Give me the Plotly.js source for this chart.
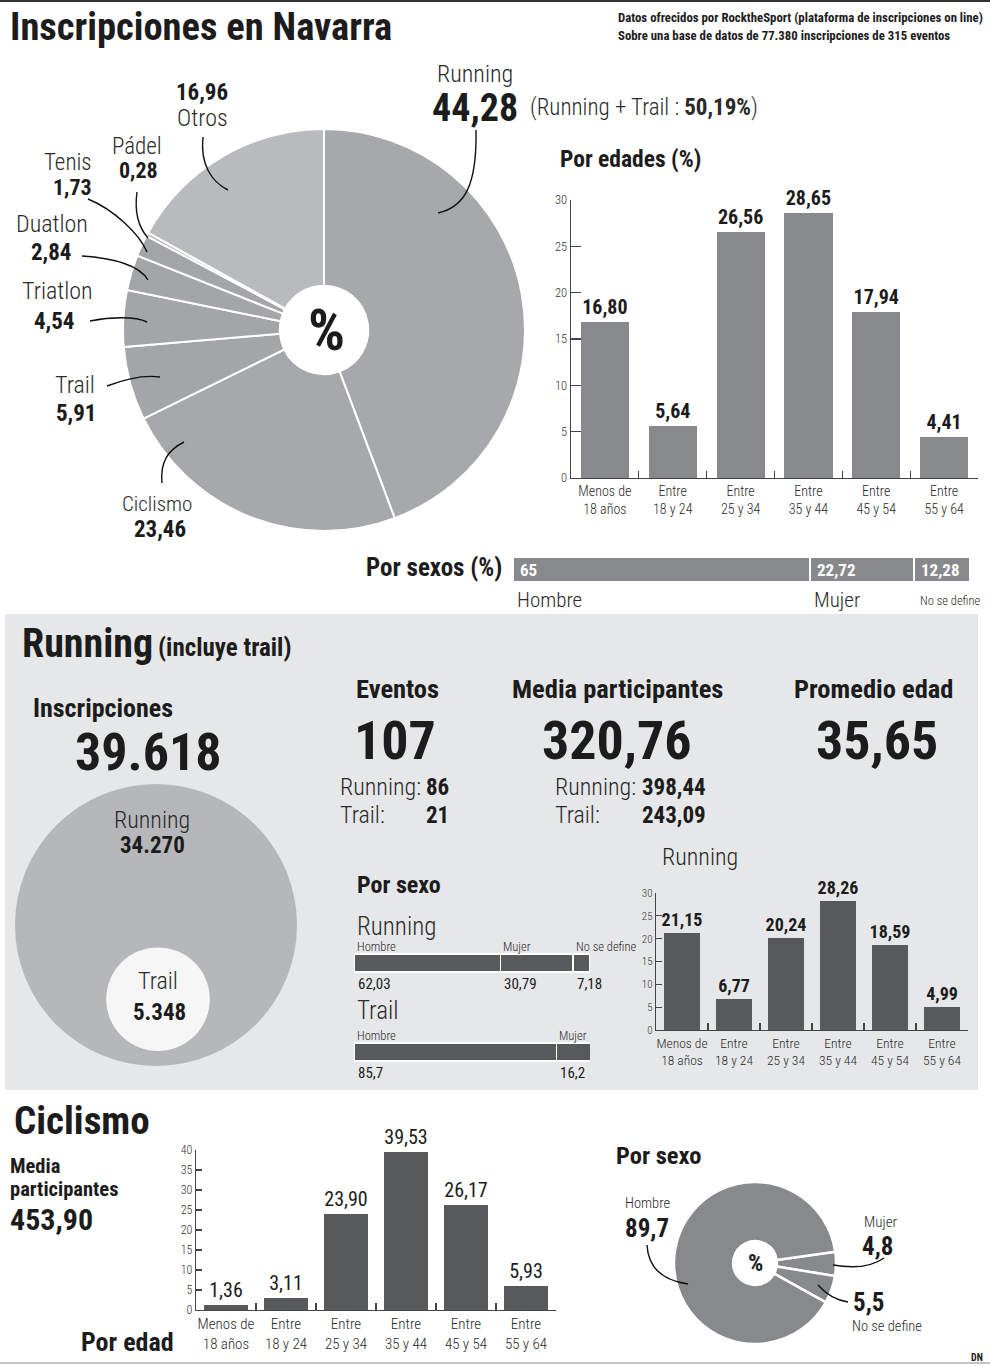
<!DOCTYPE html>
<html><head><meta charset="utf-8">
<script src="https://cdn.plot.ly/plotly-3.0.1.min.js"></script>
<style>html,body{margin:0;padding:0;background:#fff}#chart{width:990px;height:1366px}</style>
</head><body><div id="chart"></div>
<script>
// ---------- DATA ----------
const sportLabels = ['Running','Ciclismo','Trail','Triatlon','Duatlon','Tenis','Pádel','Otros'];
const sportValues = [44.28, 23.46, 5.91, 4.54, 2.84, 1.73, 0.28, 16.96];
const ageLabels = ['Menos de<br>18 años','Entre<br>18 y 24','Entre<br>25 y 34','Entre<br>35 y 44','Entre<br>45 y 54','Entre<br>55 y 64'];
const ageAll = [16.80, 5.64, 26.56, 28.65, 17.94, 4.41];
const sexLabels = ['Hombre','Mujer','No se define'];
const sexAll = [65, 22.72, 12.28];
const inscLabels = ['Running','Trail'];
const inscValues = [34270, 5348];
const runEventos = [86, 21];
const runMedia = [398.44, 243.09];
const runTotals = {eventos:107, media:320.76, edad:35.65};
const sexRunning = [62.03, 30.79, 7.18];
const sexTrail = [85.7, 16.2];
const ageRunning = [21.15, 6.77, 20.24, 28.26, 18.59, 4.99];
const ageCiclismo = [1.36, 3.11, 23.90, 39.53, 26.17, 5.93];
const cicMedia = 453.90;
const cicSexLabels = ['Mujer','No se define','Hombre'];
const cicSexValues = [4.8, 5.5, 89.7];
const totalInscripciones = 77380, totalEventos = 315;

// ---------- HELPERS ----------
const W = 990, H = 1366;
const F = "'Roboto Condensed','Noto Sans Condensed','Liberation Sans Narrow','DejaVu Sans Condensed',sans-serif";
const fmt = (v,d) => v.toFixed(d).replace('.', ',');
const fmtS = v => String(v).replace('.', ',');
const fmtN = v => String(v).replace(/\B(?=(\d{3})+(?!\d))/g, '.');
const sv = l => sportValues[sportLabels.indexOf(l)];
const anns = [];
function T(x, y, text, size, o = {}) {
  anns.push({xref:o.xref||'x', yref:o.yref||'y', x, y,
    text: o.b ? '<b>'+text+'</b>' : text, showarrow:false,
    xanchor:o.a||'left', yanchor:'middle', yshift:o.ys||0, xshift:o.xs||0,
    font:{family:F, size, color:o.c||'#1c1c1c', weight: o.b ? 700 : (o.w || 400)}});
}
const LT = {c:'#2a2a2a', w:300};
const lt = (extra) => Object.assign({}, LT, extra || {});
const shapes = [];
function L(d, w) { shapes.push({type:'path', xref:'x', yref:'y', path:d, line:{color:'#111', width:w||1.4}, layer:'above'}); }

const traces = [];
const layout = {
  width:W, height:H, margin:{l:0,r:0,t:0,b:0,pad:0},
  paper_bgcolor:'#ffffff', plot_bgcolor:'rgba(0,0,0,0)',
  showlegend:false, barmode:'stack', bargap:0.29, separators:',.',
  font:{family:F, color:'#1c1c1c'},
  xaxis:{domain:[0,1], range:[0,W], visible:false, fixedrange:true},
  yaxis:{domain:[0,1], range:[H,0], visible:false, fixedrange:true},
  hovermode:false
};

function ageAxes(n, xL, xR, yZero, yTop, ymax, dtick, tsz, xsz, tl) {
  const tv = []; for (let v = 0; v <= ymax; v += dtick) tv.push(v);
  layout['xaxis'+n] = {domain:[xL/W, xR/W], anchor:'y'+n, type:'category',
    showline:true, linecolor:'#444', linewidth:1.3, ticks:'inside', tickson:'boundaries',
    ticklen:7, tickcolor:'#444', tickwidth:1.2, tickangle:0, tickfont:{family:F, size:xsz, color:'#2a2a2a', weight:300},
    showgrid:false, zeroline:false, fixedrange:true};
  layout['yaxis'+n] = {domain:[1-yZero/H, 1-yTop/H], anchor:'x'+n, range:[0,ymax],
    tickvals:tv, ticks:'inside', ticklen:tl, tickcolor:'#444', tickwidth:1.2,
    showline:true, linecolor:'#444', linewidth:1.3, showgrid:false, zeroline:false,
    tickfont:{family:F, size:tsz, color:'#333', weight:300}, fixedrange:true};
}

// ---------- BACKGROUND SHAPES ----------
shapes.push({type:'line', xref:'x', yref:'y', x0:0, x1:W, y0:1, y1:1, line:{color:'#333', width:2}});
shapes.push({type:'rect', xref:'x', yref:'y', x0:5, x1:978, y0:614, y1:1090, fillcolor:'#e6e7e8', line:{width:0}, layer:'below'});
shapes.push({type:'line', xref:'x', yref:'y', x0:0, x1:W, y0:1363, y1:1363, line:{color:'#c4c4c4', width:2}});

// ---------- HEADER ----------
T(8, 26, 'Inscripciones en Navarra', 38.5, {b:true});
T(616, 17, 'Datos ofrecidos por RocktheSport (plataforma de inscripciones on line)', 12.8, {b:true});
T(616, 35, 'Sobre una base de datos de ' + fmtN(totalInscripciones) + ' inscripciones de ' + totalEventos + ' eventos', 12.8, {b:true});

// ---------- MAIN PIE ----------
traces.push({type:'pie', labels:sportLabels, values:sportValues, sort:false, direction:'clockwise', rotation:0,
  hole:0.22, textinfo:'none', hoverinfo:'skip',
  marker:{colors:['#a7a8ab','#a7a8ab','#a4a5a9','#a4a5a9','#a4a5a9','#a4a5a9','#b3b4b7','#b9babd'], line:{color:'#ffffff', width:2}},
  domain:{x:[123/W, 525/W], y:[1-531/H, 1-129/H]}});
T(326, 330, '%', 58, {b:true, a:'center'});
T(475, 74, 'Running', 24, lt({a:'center'}));
T(475, 108, fmt(sv('Running'),2), 38, {b:true, a:'center'});
T(528, 107, '(Running + Trail : <b>' + fmt(sv('Running')+sv('Trail'),2) + '%</b>)', 23, lt());
T(202, 92, fmt(sv('Otros'),2), 23, {b:true, a:'center'});
T(202, 118, 'Otros', 24, lt({a:'center'}));
T(137, 146, 'Pádel', 23, lt({a:'center'}));
T(138, 170, fmt(sv('Pádel'),2), 22, {b:true, a:'center'});
T(68, 162, 'Tenis', 23, lt({a:'center'}));
T(72, 187, fmt(sv('Tenis'),2), 22, {b:true, a:'center'});
T(14, 224, 'Duatlon', 24, lt());
T(29, 252, fmt(sv('Duatlon'),2), 23, {b:true});
T(20, 291, 'Triatlon', 24, lt());
T(32, 321, fmt(sv('Triatlon'),2), 23, {b:true});
T(75, 385, 'Trail', 24, lt({a:'center'}));
T(76, 413, fmt(sv('Trail'),2), 23, {b:true, a:'center'});
T(157, 504, 'Ciclismo', 21, lt({a:'center'}));
T(160, 529, fmt(sv('Ciclismo'),2), 23, {b:true, a:'center'});
L('M476,130 C477,185 465,207 438,213');
L('M203,137 C200,165 212,182 228,190');
L('M137,192 C134,214 140,229 148,238');
L('M88,199 C115,210 140,235 147,252');
L('M82,256 C115,258 140,266 148,280');
L('M90,321 C110,317 135,316 147,322');
L('M107,386 C120,381 140,374 160,377');
L('M162,483 C160,462 168,450 184,442');

// ---------- POR EDADES ----------
T(558, 159, 'Por edades (%)', 23.5, {b:true});
ageAxes(2, 571, 978, 478, 200, 30, 5, 12.5, 14, 10);
traces.push({type:'bar', x:ageLabels, y:ageAll, xaxis:'x2', yaxis:'y2', width:0.71,
  marker:{color:'#88898d'}, texttemplate:'<b>%{y:.2f}</b>', textposition:'outside',
  textfont:{family:F, size:20, color:'#1c1c1c'}, cliponaxis:false, constraintext:'none', hoverinfo:'skip'});

// ---------- POR SEXOS ----------
T(504, 567, 'Por sexos (%)', 25, {b:true, a:'right'});
layout.xaxis3 = {domain:[513/W, 970/W], anchor:'y3', range:[0, 100], visible:false, fixedrange:true};
layout.yaxis3 = {domain:[1-582/H, 1-557/H], anchor:'x3', range:[-0.5, 0.5], visible:false, fixedrange:true};
let cum = 0;
sexAll.forEach((v, i) => {
  traces.push({type:'bar', orientation:'h', x:[v], y:[0], width:1, xaxis:'x3', yaxis:'y3',
    marker:{color:'#88898d', line:{color:'#ffffff', width:1.5}}, hoverinfo:'skip'});
  T(cum, 0, fmtS(v), 17, {xref:'x3', yref:'y3', b:true, c:'#ffffff', xs:5});
  T(cum, 600, sexLabels[i], i < 2 ? 21 : 12.5, lt({xref:'x3', xs: i < 2 ? 2 : 4}));
  cum += v;
});

// ---------- RUNNING SECTION ----------
T(20, 643, 'Running', 40, {b:true});
T(156, 647, '(incluye trail)', 25, {b:true});
T(31, 708, 'Inscripciones', 26, {b:true});
const insTotal = inscValues.reduce((a,b)=>a+b,0);
T(148, 752, fmtN(insTotal), 52, {b:true, a:'center'});
const bigD = 282;
traces.push({type:'scatter', mode:'markers', xaxis:'x', yaxis:'y', hoverinfo:'skip',
  x:[156, 158], y:[925, 925 + bigD/2 - bigD*Math.sqrt(inscValues[1]/insTotal)/2 - 15],
  marker:{size:[bigD*Math.sqrt(insTotal/insTotal), bigD*Math.sqrt(inscValues[1]/insTotal)], sizemode:'diameter',
    color:['#b6b7ba','#f6f6f6'], line:{width:0}, opacity:1}});
T(152, 820, inscLabels[0], 24, lt({a:'center'}));
T(152, 845, fmtN(inscValues[0]), 23, {b:true, a:'center'});
T(158, 981, inscLabels[1], 24, lt({a:'center'}));
T(159, 1012, fmtN(inscValues[1]), 23, {b:true, a:'center'});

T(397, 688, 'Eventos', 26.5, {b:true, a:'center'});
T(395, 740, String(runTotals.eventos), 54, {b:true, a:'center'});
T(338, 787, 'Running:', 24, lt()); T(424, 787, String(runEventos[0]), 23, {b:true});
T(338, 815, 'Trail:', 24, lt()); T(424, 815, String(runEventos[1]), 23, {b:true});

T(617, 688, 'Media participantes', 26.5, {b:true, a:'center'});
T(617, 740, fmt(runTotals.media,2), 54, {b:true, a:'center'});
T(553, 787, 'Running:', 24, lt()); T(640, 787, fmt(runMedia[0],2), 23, {b:true});
T(553, 815, 'Trail:', 24, lt()); T(640, 815, fmt(runMedia[1],2), 23, {b:true});

T(873, 688, 'Promedio edad', 26.5, {b:true, a:'center'});
T(877, 740, fmt(runTotals.edad,2), 54, {b:true, a:'center'});

// Por sexo (running / trail)
T(355, 885, 'Por sexo', 24, {b:true});
T(355, 926, 'Running', 25, lt());
T(355, 1010, 'Trail', 25, lt());
layout.xaxis4 = {domain:[354/W, 590/W], anchor:'y4', range:[0, 100], visible:false, fixedrange:true};
layout.yaxis4 = {domain:[1-1096.5/H, 1-918.5/H], anchor:'x4', range:[1.5, -0.5], visible:false, fixedrange:true};
const rows = [sexRunning, sexTrail];
for (let s = 0; s < 3; s++) {
  const xs = [], ys = [];
  rows.forEach((r, ri) => { if (s < r.length) { xs.push(r[s]); ys.push(ri); } });
  traces.push({type:'bar', orientation:'h', x:xs, y:ys, width:0.2, xaxis:'x4', yaxis:'y4',
    marker:{color:'#58595b', line:{color:'#ffffff', width:1.5}}, hoverinfo:'skip'});
}
rows.forEach((r, ri) => {
  let c = 0;
  r.forEach((v, i) => {
    T(c, ri, sexLabels[i], 12.5, lt({xref:'x4', yref:'y4', ys:17, xs:1}));
    T(c, ri, fmtS(v), 15, {xref:'x4', yref:'y4', ys:-21, xs:2, c:'#1c1c1c'});
    c += v;
  });
});

// Running by age
T(660, 857, 'Running', 24, lt());
ageAxes(5, 656, 968, 1030, 893, 30, 5, 11, 13.5, 6);
traces.push({type:'bar', x:ageLabels, y:ageRunning, xaxis:'x5', yaxis:'y5', width:0.71,
  marker:{color:'#58595b'}, texttemplate:'<b>%{y:.2f}</b>', textposition:'outside',
  textfont:{family:F, size:18, color:'#1c1c1c'}, cliponaxis:false, constraintext:'none', hoverinfo:'skip'});

// ---------- CICLISMO ----------
T(12, 1121, 'Ciclismo', 39, {b:true});
T(8, 1166, 'Media', 20.5, {b:true});
T(8, 1189, 'participantes', 20.5, {b:true});
T(8, 1219, fmt(cicMedia,2), 30, {b:true});
T(79, 1342, 'Por edad', 26, {b:true});
ageAxes(6, 196, 556, 1310, 1150, 40, 5, 12, 15, 6);
traces.push({type:'bar', x:ageLabels, y:ageCiclismo, xaxis:'x6', yaxis:'y6', width:0.73,
  marker:{color:'#58595b'}, texttemplate:'%{y:.2f}', textposition:'outside',
  textfont:{family:F, size:20, color:'#1c1c1c'}, cliponaxis:false, constraintext:'none', hoverinfo:'skip'});

T(614, 1155, 'Por sexo', 24.5, {b:true});
traces.push({type:'pie', labels:cicSexLabels, values:cicSexValues, sort:false, direction:'clockwise', rotation:82,
  hole:0.27, textinfo:'none', hoverinfo:'skip',
  marker:{colors:['#88898d','#88898d','#88898d'], line:{color:'#ffffff', width:2.5}},
  domain:{x:[674/W, 836/W], y:[1-1344/H, 1-1182/H]}});
T(755, 1263, '%', 24, {b:true, a:'center'});
const cv = l => cicSexValues[cicSexLabels.indexOf(l)];
T(623, 1203, 'Hombre', 14.5, lt());
T(623, 1228, fmtS(cv('Hombre')), 25, {b:true});
T(862, 1222, 'Mujer', 15, lt());
T(860, 1246, fmtS(cv('Mujer')), 25, {b:true});
T(851, 1302, fmtS(cv('No se define')), 25, {b:true});
T(850, 1326, 'No se define', 14.5, lt());
L('M647,1245 C648,1265 660,1280 688,1284');
L('M884,1258 C870,1268 850,1268 833,1265');
L('M848,1302 C835,1300 825,1293 818,1285');

T(985, 1357, '<b>DN</b>', 10, {a:'right', c:'#222'});

layout.annotations = anns;
layout.shapes = shapes;
Plotly.newPlot('chart', traces, layout, {staticPlot:true, displayModeBar:false});
</script></body></html>
